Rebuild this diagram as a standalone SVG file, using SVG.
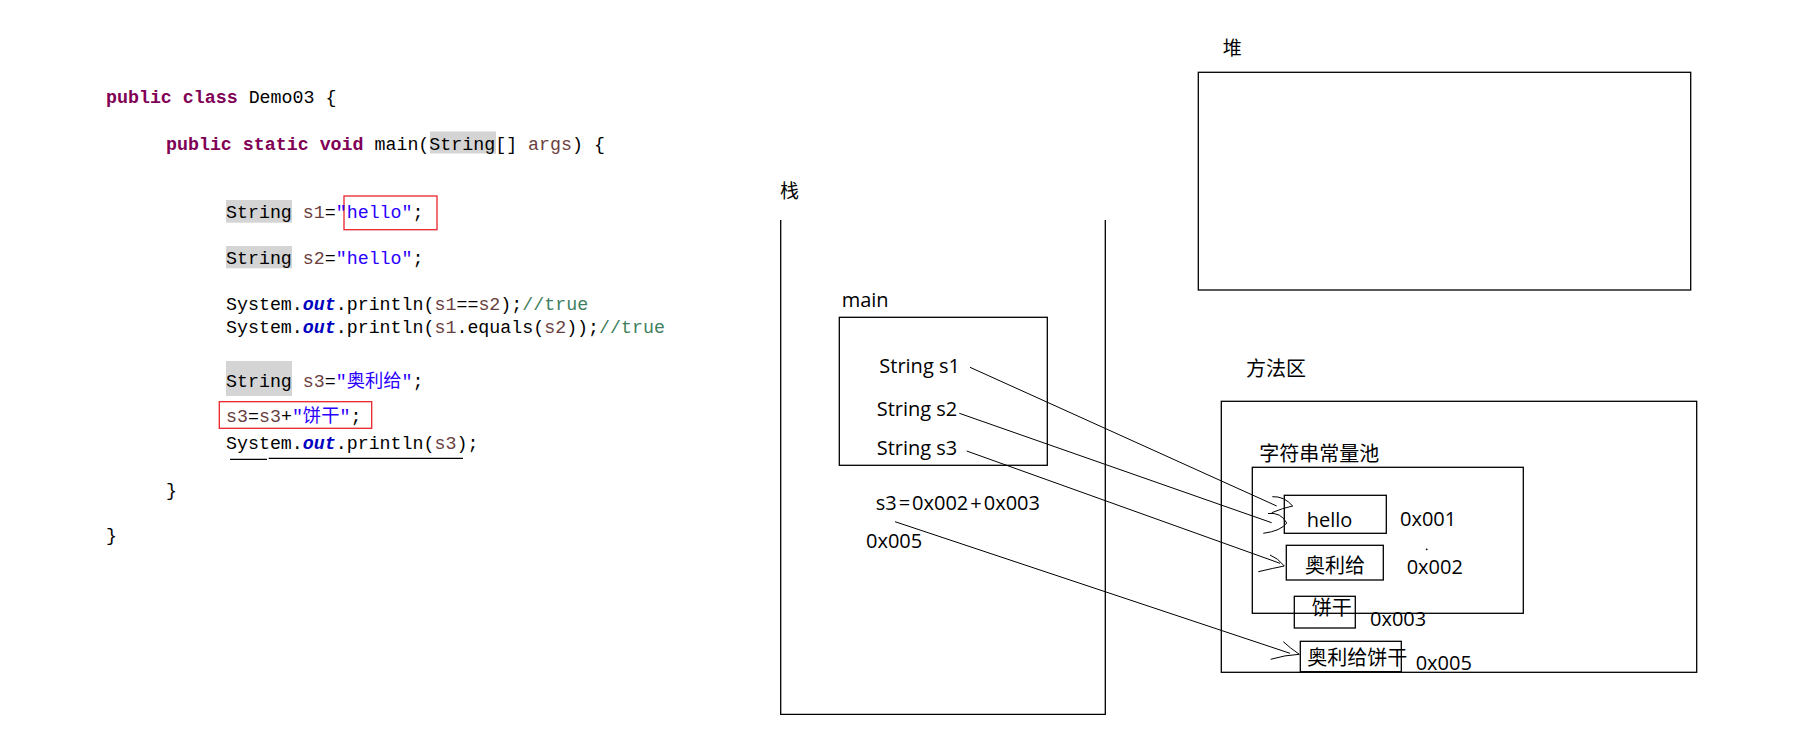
<svg xmlns="http://www.w3.org/2000/svg" width="1793" height="743" viewBox="0 0 1793 743">
<style>
.code{font-family:"Liberation Mono","DejaVu Sans Mono","Noto Sans CJK SC",monospace;font-size:18.3px;fill:#000;}
.kw{fill:#7F0055;font-weight:bold;}
.var{fill:#6A3E3E;}
.str{fill:#2A00FF;}
.fld{fill:#0000C0;font-weight:bold;font-style:italic;}
.cmt{fill:#3F7F5F;}
.hl{fill:#D4D4D4;}
.red{fill:none;stroke:#E8242B;stroke-width:1.3;}
.lbl{font-family:"Open Sans","Noto Sans CJK SC",sans-serif;font-size:20px;fill:#000;}
.cjk{font-family:"Noto Sans CJK SC",sans-serif;font-size:20px;fill:#000;}
.box{fill:none;stroke:#000;stroke-width:1.3;}
.ln{fill:none;stroke:#000;stroke-width:1;}
</style>
<rect width="1793" height="743" fill="#fff"/>

<g id="code" xml:space="preserve">
<rect class="hl" x="430" y="131.5" width="66" height="22"/>
<rect class="hl" x="226" y="200" width="66" height="22.7"/>
<rect class="hl" x="226" y="246" width="66" height="22.3"/>
<rect class="hl" x="226" y="361" width="66" height="35"/>
<rect class="red" x="344" y="196" width="93" height="33.7"/>
<rect class="red" x="219.3" y="401.7" width="152.4" height="26.6"/>
<text class="code" x="106" y="103.3"><tspan class="kw">public</tspan> <tspan class="kw">class</tspan> Demo03 {</text>
<text class="code" x="166" y="149.5"><tspan class="kw">public</tspan> <tspan class="kw">static</tspan> <tspan class="kw">void</tspan> main(String[] <tspan class="var">args</tspan>) {</text>
<text class="code" x="226" y="218.3">String <tspan class="var">s1</tspan>=<tspan class="str">"hello"</tspan>;</text>
<text class="code" x="226" y="264.3">String <tspan class="var">s2</tspan>=<tspan class="str">"hello"</tspan>;</text>
<text class="code" x="226" y="310">System.<tspan class="fld">out</tspan>.println(<tspan class="var">s1</tspan>==<tspan class="var">s2</tspan>);<tspan class="cmt">//true</tspan></text>
<text class="code" x="226" y="332.7">System.<tspan class="fld">out</tspan>.println(<tspan class="var">s1</tspan>.equals(<tspan class="var">s2</tspan>));<tspan class="cmt">//true</tspan></text>
<text class="code" x="226" y="386.7">String <tspan class="var">s3</tspan>=<tspan class="str">"奥利给"</tspan>;</text>
<text class="code" x="226" y="421.7"><tspan class="var">s3</tspan>=<tspan class="var">s3</tspan>+<tspan class="str">"饼干"</tspan>;</text>
<text class="code" x="226" y="449">System.<tspan class="fld">out</tspan>.println(<tspan class="var">s3</tspan>);</text>
<line x1="230" y1="459.3" x2="267" y2="459.3" stroke="#000" stroke-width="1.3"/>
<line x1="268.7" y1="458.3" x2="463" y2="458.3" stroke="#000" stroke-width="1.3"/>
<text class="code" x="166" y="496">}</text>
<text class="code" x="106" y="541">}</text>
</g>

<g id="stack">
<text class="cjk" x="780" y="198" style="font-size:19px">栈</text>
<path class="box" d="M780.7,220 V714.3 H1105.3 V220"/>
</g>

<g id="main-frame">
<text class="lbl" x="841.7" y="307.3">main</text>
<rect class="box" x="839.3" y="317.3" width="208" height="148"/>
<text class="lbl" x="879.3" y="373.3">String s1</text>
<text class="lbl" x="876.7" y="416">String s2</text>
<text class="lbl" x="876.7" y="455">String s3</text>
</g>

<g id="stack-expr">
<text class="lbl" x="875.7" y="510">s3<tspan dx="2">=</tspan><tspan dx="2">0x002</tspan><tspan dx="2">+</tspan><tspan dx="2">0x003</tspan></text>
<text class="lbl" x="866" y="547.7">0x005</text>
</g>

<g id="heap">
<text class="cjk" x="1222.7" y="55" style="font-size:19px">堆</text>
<rect class="box" x="1198.3" y="72.3" width="492.4" height="217.7"/>
</g>

<g id="method-area">
<text class="cjk" x="1246" y="376">方法区</text>
<rect class="box" x="1221.3" y="401.3" width="475.4" height="271"/>
</g>

<g id="string-pool">
<text class="cjk" x="1259.3" y="460.5">字符串常量池</text>
<rect class="box" x="1252.3" y="467.3" width="271" height="146"/>
</g>

<g id="hello">
<rect class="box" x="1284.3" y="495.3" width="102" height="38"/>
<text class="lbl" x="1306.7" y="527.3">hello</text>
<text class="lbl" x="1400" y="526">0x001</text>
<circle cx="1426.7" cy="549.3" r="0.9" fill="#000"/>
</g>

<g id="aoligei">
<rect class="box" x="1286.3" y="545.3" width="97" height="34.7"/>
<text class="cjk" x="1305" y="573">奥利给</text>
<text class="lbl" x="1406.7" y="574.3">0x002</text>
</g>

<g id="binggan">
<rect class="box" x="1294.3" y="596.3" width="61" height="31.7"/>
<text class="cjk" x="1311.7" y="615">饼干</text>
<text class="lbl" x="1370" y="626">0x003</text>
</g>

<g id="aoligeibinggan">
<rect class="box" x="1300.3" y="641.3" width="101" height="30.4"/>
<text class="cjk" x="1307.3" y="665">奥利给饼干</text>
<text class="lbl" x="1415.7" y="670">0x005</text>
</g>

<g id="connectors">
<line class="ln" x1="970" y1="367.3" x2="1276.7" y2="506"/>
<path class="ln" d="M1272.3,496.7 Q1284,496 1292.7,506 Q1283,508 1271.7,512.7"/>
<line class="ln" x1="959.3" y1="413.3" x2="1271.7" y2="522.7"/>
<path class="ln" d="M1268,513.5 Q1281,512 1286.7,523 Q1281,531 1263.3,533.3"/>
<line class="ln" x1="966.7" y1="451" x2="1280" y2="563.3"/>
<path class="ln" d="M1270,555 Q1278,558 1284.3,566 Q1274,568 1258.3,571.7"/>
<line class="ln" x1="895" y1="521.7" x2="1290" y2="653.3"/>
<path class="ln" d="M1283.3,641.7 Q1290,648 1299.3,654.3 Q1285,655 1270.7,659.3"/>
</g>
</svg>
